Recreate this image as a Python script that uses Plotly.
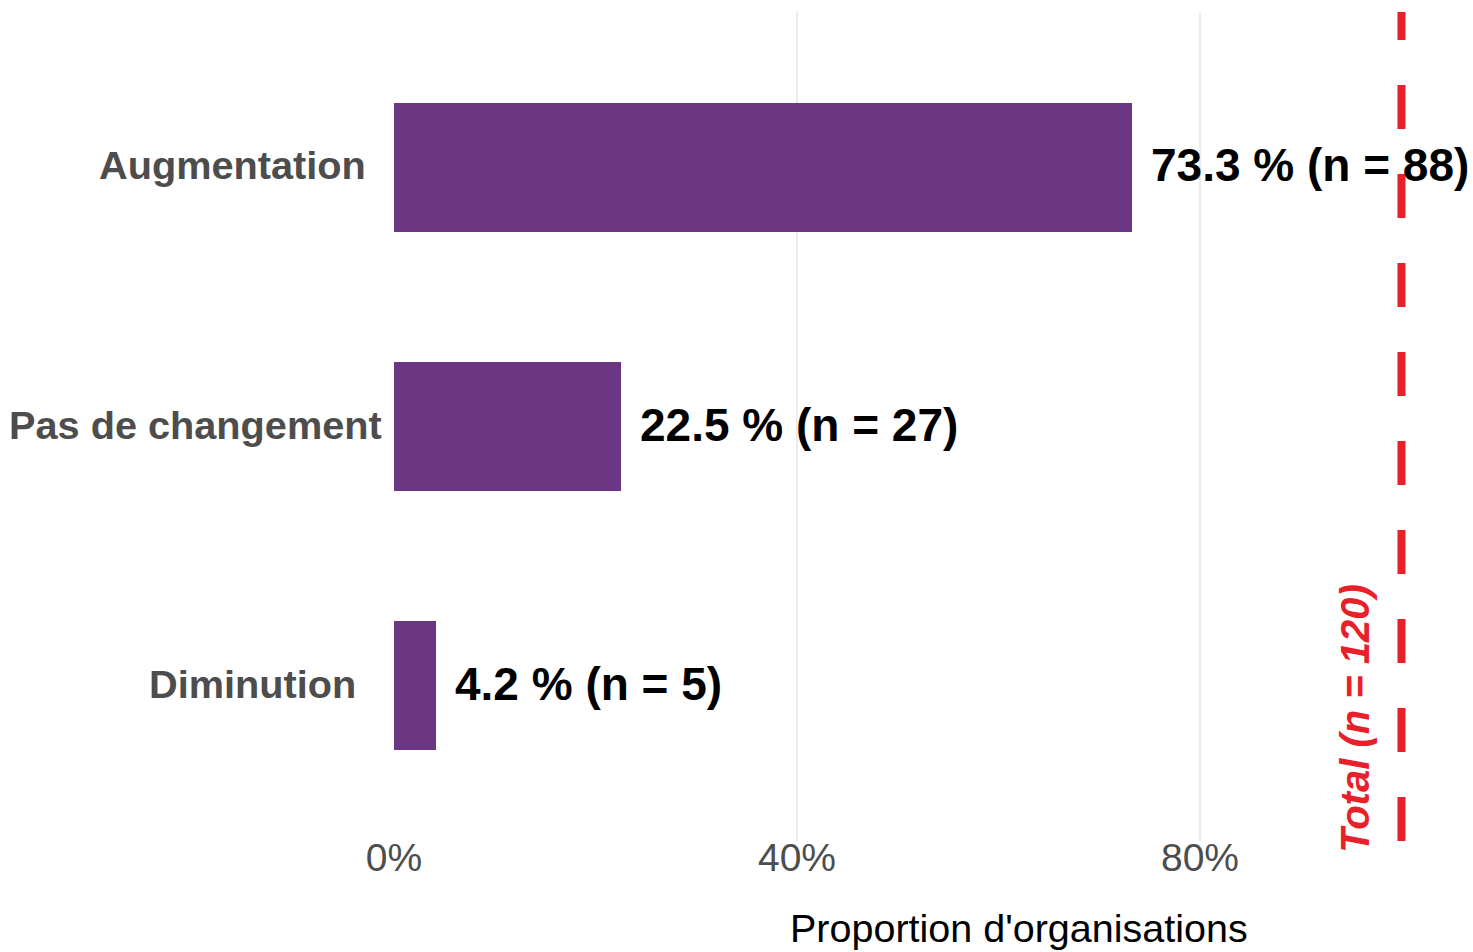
import plotly.graph_objects as go

# Survey responses: change reported by organisations
categories = ["Diminution", "Pas de changement", "Augmentation"]
percentages = [4.2, 22.5, 73.3]
counts = [5, 27, 88]
total_n = 120
total_pct = 100
x_ticks = [0, 40, 80]
x_tick_labels = ["0%", "40%", "80%"]

BAR_COLOR = "#6B3782"
RED = "#E8202A"
FONT = "Liberation Sans, Arial, sans-serif"

fig = go.Figure()

fig.add_trace(go.Bar(
    y=list(range(len(categories))),
    x=percentages,
    orientation="h",
    width=0.5,
    marker=dict(color=BAR_COLOR, line=dict(width=0)),
    hoverinfo="skip",
))

# category labels on the left
label_shift = {"Diminution": -36, "Pas de changement": -10, "Augmentation": -26}
for i, cat in enumerate(categories):
    fig.add_annotation(
        x=0, xref="paper", y=i, yref="y",
        text=f"<b>{cat}</b>", showarrow=False,
        xanchor="right", yanchor="middle", xshift=label_shift[cat], yshift=2,
        font=dict(family=FONT, size=39.7, color="#4D4D4D"),
    )

# value labels at the end of each bar
for i, (p, n) in enumerate(zip(percentages, counts)):
    fig.add_annotation(
        x=p, y=i, xref="x", yref="y",
        text=f"<b>{p:.1f} % (n = {n})</b>", showarrow=False,
        xanchor="left", yanchor="middle", xshift=17, yshift=2,
        font=dict(family=FONT, size=46, color="#000000"),
    )

# reference line for the total
fig.add_shape(
    type="line", xref="x", yref="paper",
    x0=total_pct, x1=total_pct, y0=0, y1=1,
    line=dict(color=RED, width=8, dash="44px,45px"),
)
fig.add_annotation(
    x=total_pct, xref="x", y=0.148, yref="paper",
    text=f"<b><i>Total (n = {total_n})</i></b>", showarrow=False,
    textangle=-90, xanchor="center", yanchor="middle", xshift=-46,
    font=dict(family=FONT, size=40, color=RED),
)

# x axis title
fig.add_annotation(
    x=0.579, xref="paper", y=-0.105, yref="paper",
    text="Proportion d'organisations", showarrow=False,
    xanchor="center", yanchor="middle",
    font=dict(family=FONT, size=39.5, color="#000000"),
)

fig.update_layout(
    width=1473, height=952,
    margin=dict(l=394, r=0, t=12, b=111),
    plot_bgcolor="white", paper_bgcolor="white",
    showlegend=False,
    bargap=0,
    xaxis=dict(
        range=[0, 107.1],
        tickvals=x_ticks, ticktext=x_tick_labels,
        showgrid=True, gridcolor="#EBEBEB", gridwidth=1.5,
        zeroline=False, showline=False, ticks="",
        tickfont=dict(family=FONT, size=39, color="#4D4D4D"),
        ticklabelstandoff=-10,
        fixedrange=True,
    ),
    yaxis=dict(
        range=[-0.6, 2.6],
        showticklabels=False, showgrid=False, zeroline=False,
        showline=False, ticks="", fixedrange=True,
    ),
)

fig.write_html("out.html")
